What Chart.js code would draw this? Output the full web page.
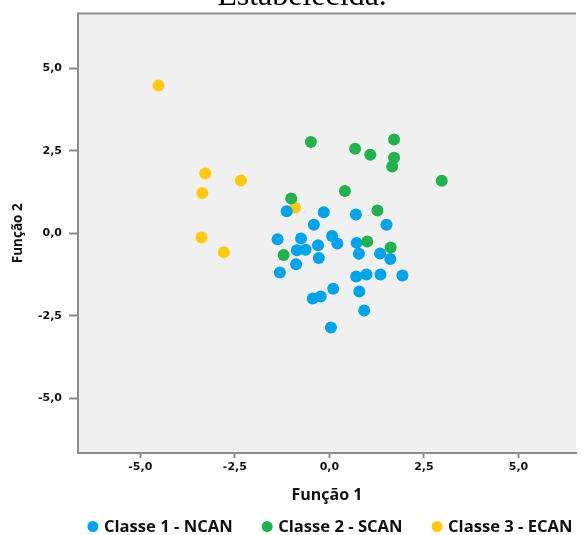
<!DOCTYPE html>
<html>
<head>
<meta charset="utf-8">
<script src="https://cdn.jsdelivr.net/npm/chart.js@4/dist/chart.umd.min.js"></script>
<style>
  html, body { margin: 0; padding: 0; background: #fff; overflow: hidden; }
  canvas { display: block; }
</style>
</head>
<body>
<canvas id="grafico" width="582" height="535"></canvas>
<script>
// scores das funções discriminantes por classe
const classes = ['Classe 1 - NCAN', 'Classe 2 - SCAN', 'Classe 3 - ECAN'];
const cores = ['#00a2e8', '#22b14c', '#ffc90e'];

const ncanF1 = [-1.13, -0.15, 0.70, -0.41, 1.51, -1.37, -0.75, 0.07, 0.21, -0.30, 0.72, -0.86, -0.63, 0.78, 1.34,
                1.61, -0.28, -0.88, -1.31, 0.71, 0.98, 1.35, 1.93, 0.79, 0.10, -0.23, -0.44, 0.92, 0.04];
const ncanF2 = [0.67, 0.64, 0.57, 0.26, 0.26, -0.18, -0.16, -0.08, -0.31, -0.36, -0.29, -0.51, -0.50, -0.62, -0.61,
                -0.78, -0.75, -0.94, -1.19, -1.31, -1.25, -1.25, -1.28, -1.76, -1.68, -1.91, -1.97, -2.34, -2.85];

const scanF1 = [-0.49, 0.68, 1.08, 1.71, 1.71, 1.66, 2.97, 0.41, -1.01, 1.27, 1.00, 1.62, -1.21];
const scanF2 = [2.76, 2.56, 2.38, 2.84, 2.29, 2.02, 1.59, 1.28, 1.05, 0.69, -0.25, -0.43, -0.66];

const ecanF1 = [-4.52, -3.28, -2.34, -3.36, -0.91, -3.38, -2.79];
const ecanF2 = [4.47, 1.81, 1.60, 1.22, 0.77, -0.13, -0.57];

const ticksEixo = [-5, -2.5, 0, 2.5, 5];

function pontos(xs, ys) {
    return xs.map((x, i) => ({ x: x, y: ys[i] }));
}

function formatar(v) {
    return v.toFixed(1).replace('.', ',');
}

// fundo cinza, moldura superior, legenda e legenda da figura
const moldura = {
    id: 'moldura',
    beforeDraw(chart) {
        const { ctx, chartArea: a } = chart;
        ctx.save();
        ctx.fillStyle = '#f0f0f0';
        ctx.fillRect(a.left, a.top, a.right - a.left, a.bottom - a.top);
        ctx.restore();
    },
    afterDraw(chart) {
        const { ctx, chartArea: a } = chart;
        ctx.save();
        ctx.strokeStyle = '#8c8c8c';
        ctx.lineWidth = 2;
        ctx.beginPath();
        ctx.moveTo(a.left - 1, a.top);
        ctx.lineTo(a.right, a.top);
        ctx.stroke();

        ctx.fillStyle = '#000';
        ctx.font = '32px "Liberation Serif"';
        ctx.textAlign = 'center';
        ctx.textBaseline = 'alphabetic';
        ctx.fillText('Estabelecida.', 302, 5);

        // legenda
        ctx.font = 'bold 16.6px "Open Sans"';
        const ds = chart.data.datasets;
        const larguras = ds.map(d => 16.5 + ctx.measureText(d.label).width);
        const gap = 29;
        const total = larguras.reduce((s, w) => s + w, 0) + gap * (ds.length - 1);
        let x = (a.left + a.right) / 2 + 3 - total / 2;
        const y = chart.height - 8.5;
        ctx.textAlign = 'left';
        ctx.textBaseline = 'middle';
        ds.forEach((d, i) => {
            ctx.fillStyle = d.backgroundColor;
            ctx.beginPath();
            ctx.arc(x + 5.5, y, 5.5, 0, Math.PI * 2);
            ctx.fill();
            ctx.fillStyle = '#111';
            ctx.fillText(d.label, x + 16.5, y + 1);
            x += larguras[i] + gap;
        });
        ctx.restore();
    }
};

const ctx = document.getElementById('grafico').getContext('2d');

new Chart(ctx, {
    type: 'scatter',
    data: {
        datasets: [
            { label: classes[0], data: pontos(ncanF1, ncanF2), backgroundColor: cores[0], order: 1 },
            { label: classes[1], data: pontos(scanF1, scanF2), backgroundColor: cores[1], order: 0 },
            { label: classes[2], data: pontos(ecanF1, ecanF2), backgroundColor: cores[2], order: 2 }
        ]
    },
    options: {
        responsive: false,
        devicePixelRatio: 1,
        animation: false,
        events: [],
        layout: { padding: { top: 13, right: 0, bottom: 30, left: 0 } },
        elements: {
            point: { radius: 6, borderWidth: 0, hoverRadius: 6 }
        },
        plugins: {
            legend: { display: false },
            tooltip: { enabled: false }
        },
        scales: {
            x: {
                type: 'linear',
                min: -6.647,
                max: 6.52,
                afterFit: s => { s.height = 52; },
                afterBuildTicks: s => { s.ticks = ticksEixo.map(v => ({ value: v })); },
                grid: { drawOnChartArea: false, drawTicks: true, tickLength: 5, tickColor: '#8c8c8c', tickWidth: 2 },
                border: { display: true, color: '#8c8c8c', width: 2 },
                ticks: {
                    padding: 3,
                    color: '#111',
                    font: { family: 'DejaVu Sans', weight: 'bold', size: 11 },
                    callback: v => formatar(v)
                },
                title: {
                    display: true,
                    text: 'Função 1',
                    color: '#111',
                    font: { family: 'Open Sans', weight: 'bold', size: 16 },
                    padding: { top: 0, bottom: 0 }
                }
            },
            y: {
                type: 'linear',
                min: -6.65,
                max: 6.65,
                afterFit: s => { s.width = 78; },
                afterBuildTicks: s => { s.ticks = ticksEixo.map(v => ({ value: v })); },
                grid: { drawOnChartArea: false, drawTicks: true, tickLength: 9, tickColor: '#8c8c8c', tickWidth: 2 },
                border: { display: true, color: '#8c8c8c', width: 2 },
                ticks: {
                    padding: 7,
                    color: '#111',
                    font: { family: 'DejaVu Sans', weight: 'bold', size: 11 },
                    callback: v => formatar(v)
                },
                title: {
                    display: true,
                    text: 'Função 2',
                    color: '#111',
                    font: { family: 'Open Sans', weight: 'bold', size: 13.5 },
                    padding: { top: 10, bottom: 0 }
                }
            }
        }
    },
    plugins: [moldura]
});
</script>
</body>
</html>
